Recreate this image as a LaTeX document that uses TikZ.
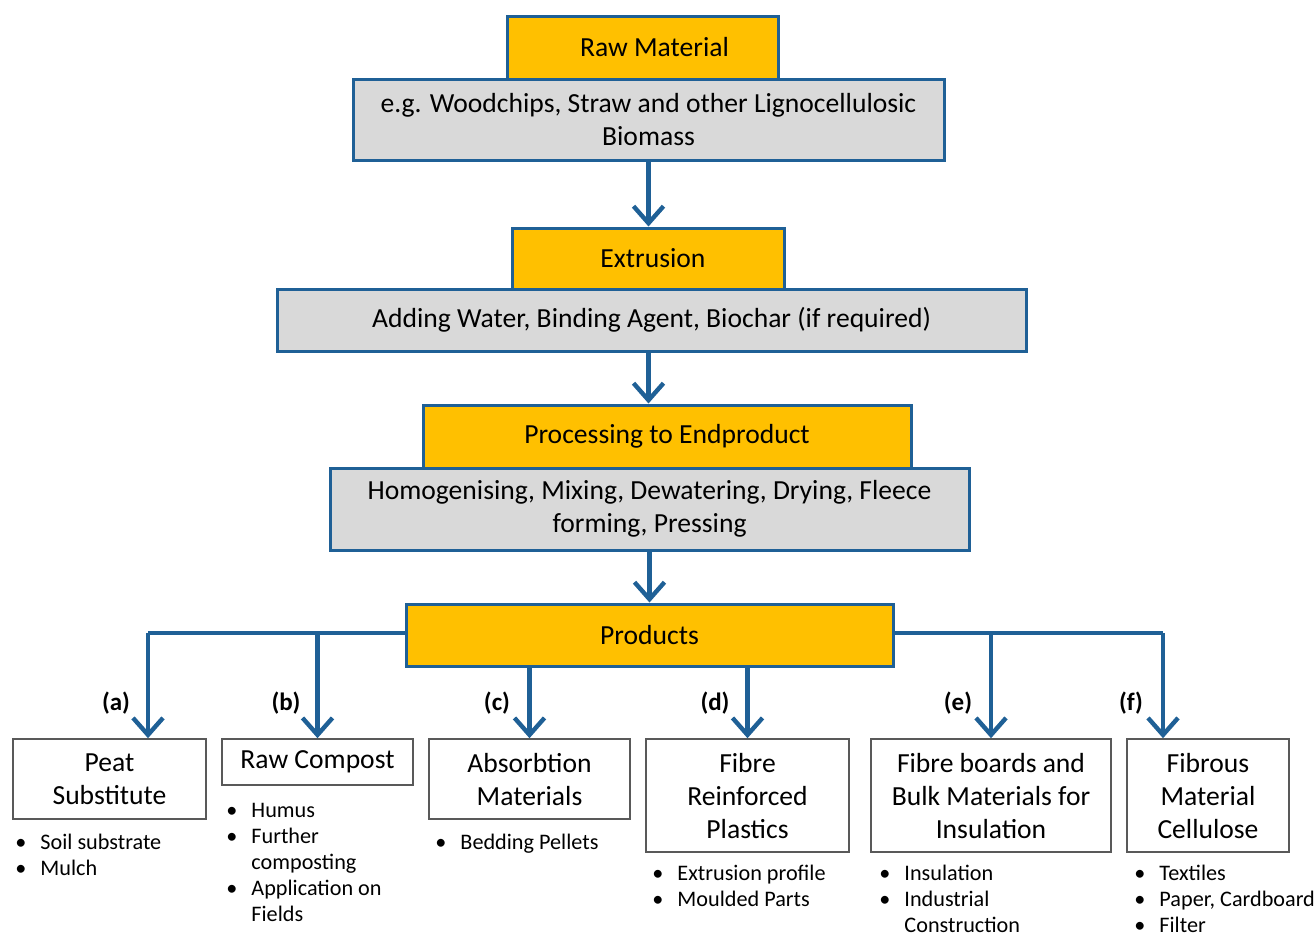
\documentclass[tikz,border=0pt]{standalone}
\usepackage{fontspec}
\setmainfont{Carlito}
\usetikzlibrary{arrows.meta}

\definecolor{flowblue}{RGB}{31,96,150}
\definecolor{headorange}{RGB}{255,192,0}
\definecolor{descgray}{RGB}{217,217,217}
\definecolor{prodframe}{RGB}{89,89,89}

\newcommand{\bul}{\textbullet}

\begin{document}
\begin{tikzpicture}[x=0.5pt,y=-0.5pt,
    headbox/.style={draw=flowblue,line width=1.5pt,fill=headorange,inner sep=0pt,
        font=\fontsize{13.8}{16.5}\selectfont},
    descbox/.style={draw=flowblue,line width=1.5pt,fill=descgray,inner sep=0pt,align=center,
        font=\fontsize{13.8}{16.5}\selectfont},
    prodbox/.style={draw=prodframe,line width=0.8pt,fill=white,inner sep=0pt,align=center,
        font=\fontsize{13.8}{16.5}\selectfont},
    tag/.style={font=\fontsize{12.5}{14}\selectfont\bfseries},
    uses/.style={anchor=base west,inner sep=0pt,font=\fontsize{11.1}{13}\selectfont},
    link/.style={draw=flowblue,line width=2.2pt,-{Straight Barb[length=8.5pt,width=15pt]}},
    trunk/.style={draw=flowblue,line width=2.2pt}]
    \useasboundingbox (0,0) rectangle (1315,933);

    % process chain
    \node[descbox,minimum width=295.5pt,minimum height=40.5pt] (rawdesc) at (648.5,119.5)
        {e.g. Woodchips, Straw and other Lignocellulosic\\Biomass};
    \node[headbox,minimum width=135.5pt,minimum height=31.5pt] (rawmat) at (642.5,47.5) {\hspace{12pt}Raw Material};

    \node[descbox,minimum width=374.5pt,minimum height=31pt] (extrdesc) at (651.5,320)
        {Adding Water, Binding Agent, Biochar (if required)};
    \node[headbox,minimum width=136pt,minimum height=30.5pt] (extr) at (648,258.5) {\hspace{5pt}Extrusion};

    \node[descbox,minimum width=319.5pt,minimum height=41pt] (procdesc) at (649.5,509)
        {Homogenising, Mixing, Dewatering, Drying, Fleece\\forming, Pressing};
    \node[headbox,minimum width=244pt,minimum height=31.5pt] (proc) at (667,436.5) {Processing to Endproduct};

    \node[headbox,minimum width=243.5pt,minimum height=31pt] (prod) at (649.5,635) {Products};

    \draw[link] (rawdesc.south) -- (rawdesc.south |- extr.north);
    \draw[link] (extrdesc.south -| rawdesc.south) -- (rawdesc.south |- proc.north);
    \draw[link] (procdesc.south) -- (procdesc.south |- prod.north);

    % products
    \node[prodbox,minimum width=96.5pt,minimum height=40pt] (peat) at (109.5,779) {Peat\\Substitute};
    \node[prodbox,minimum width=95.5pt,minimum height=23pt] (compost) at (317.5,762) {Raw Compost};
    \node[prodbox,minimum width=100.5pt,minimum height=40pt] (absorb) at (529.5,779) {Absorbtion\\Materials};
    \node[prodbox,minimum width=101.5pt,minimum height=56.5pt] (plastics) at (747.5,795.5) {Fibre\\Reinforced\\Plastics};
    \node[prodbox,minimum width=120pt,minimum height=56.5pt] (boards) at (991,795.5) {Fibre boards and\\Bulk Materials for\\Insulation};
    \node[prodbox,minimum width=81pt,minimum height=56.5pt] (cellulose) at (1208,795.5) {Fibrous\\Material\\Cellulose};

    \coordinate (leftend) at (148,633);
    \coordinate (rightend) at (1163,633);
    \draw[trunk] (prod.west |- leftend) -- (leftend);
    \draw[trunk] (prod.east |- rightend) -- (rightend);
    \draw[link] (leftend) -- (peat.north -| leftend);
    \draw[link] (compost.north |- leftend) -- (compost.north);
    \draw[link] (prod.south -| absorb.north) -- (absorb.north);
    \draw[link] (prod.south -| plastics.north) -- (plastics.north);
    \draw[link] (boards.north |- rightend) -- (boards.north);
    \draw[link] (rightend) -- (cellulose.north -| rightend);

    \node[tag] (la) at (116,703) {(a)};
    \node[tag] (lb) at (286,703) {(b)};
    \node[tag] (lc) at (497,703) {(c)};
    \node[tag] (ld) at (715,703) {(d)};
    \node[tag] (le) at (958,703) {(e)};
    \node[tag] (lf) at (1131,703) {(f)};

    % uses of each product
    \node[uses] (peatuse) at (15,849) {\begin{tabular}[t]{@{}l@{\hspace{7pt}}l@{}}
        \bul & Soil substrate\\ \bul & Mulch\end{tabular}};
    \node[uses] (compostuse) at (226,817) {\begin{tabular}[t]{@{}l@{\hspace{7pt}}l@{}}
        \bul & Humus\\ \bul & Further\\ & composting\\ \bul & Application on\\ & Fields\end{tabular}};
    \node[uses] (absorbuse) at (435,849) {\begin{tabular}[t]{@{}l@{\hspace{7pt}}l@{}}
        \bul & Bedding Pellets\end{tabular}};
    \node[uses] (plasticsuse) at (652,880) {\begin{tabular}[t]{@{}l@{\hspace{7pt}}l@{}}
        \bul & Extrusion profile\\ \bul & Moulded Parts\end{tabular}};
    \node[uses] (boardsuse) at (879,880) {\begin{tabular}[t]{@{}l@{\hspace{7pt}}l@{}}
        \bul & Insulation\\ \bul & Industrial\\ & Construction\end{tabular}};
    \node[uses] (celluloseuse) at (1134,880) {\begin{tabular}[t]{@{}l@{\hspace{7pt}}l@{}}
        \bul & Textiles\\ \bul & Paper, Cardboard\\ \bul & Filter\end{tabular}};
\end{tikzpicture}
\end{document}
